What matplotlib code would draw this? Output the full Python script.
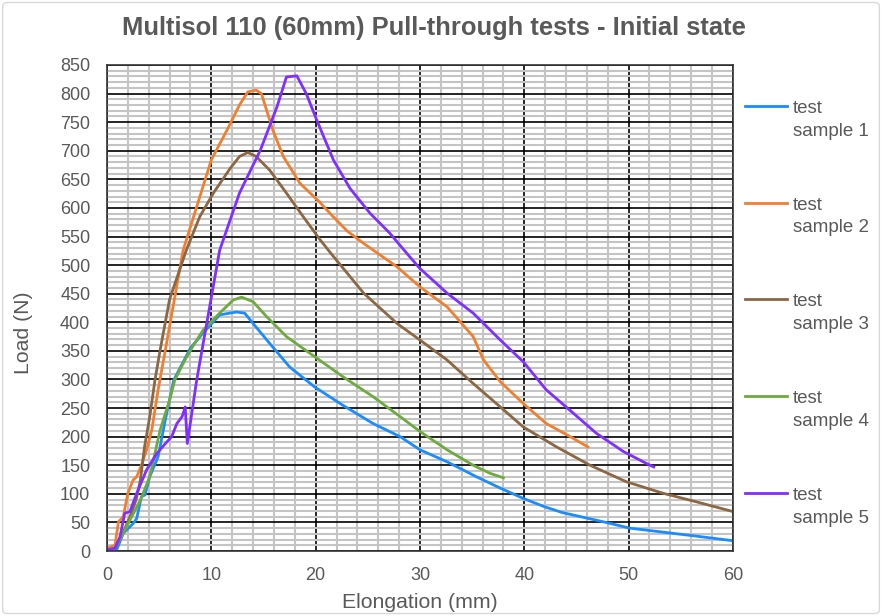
import matplotlib
matplotlib.use("Agg")
import matplotlib.pyplot as plt
import numpy as np
from matplotlib.ticker import MultipleLocator
from matplotlib.patches import FancyBboxPatch
from matplotlib.lines import Line2D
from matplotlib.legend_handler import HandlerLine2D

plt.rcParams['font.family'] = ['Liberation Sans', 'DejaVu Sans']

# Data (Elongation mm, Load N)
s1_x = [0, 0.5, 0.93, 1.56, 2.5, 2.85, 3.3, 3.64, 4.1, 4.9, 5.6, 6.4, 8.0, 9.2, 10.8, 12.4,
        13.2, 14.0, 15.6, 17.5, 19.9, 22.6, 25.5, 28.1, 30.0, 32.6, 35.4, 37.7, 39.9, 42.0,
        43.7, 47.6, 50.1, 53.3, 56.5, 60.0]
s1_y = [0, 0, 2, 31, 48, 57, 95, 98, 130, 165, 230, 299, 355, 381, 413, 418,
        416, 398, 363, 322, 287, 255, 223, 200, 177, 156, 130, 110, 92, 77,
        67, 51, 40, 33, 26, 18]

s2_x = [0, 0.77, 1.1, 1.56, 2.0, 2.5, 2.85, 3.3, 3.8, 4.3, 4.6, 4.9, 5.6, 7.3, 8.6, 10.0,
        11.5, 12.7, 13.5, 14.3, 14.8, 15.3, 15.9, 16.9, 18.5, 20.4, 21.4, 23.0, 24.6, 27.8,
        30.0, 32.6, 35.1, 36.1, 37.7, 39.9, 42.1, 44.4, 46.1]
s2_y = [5, 10, 51, 60, 101, 124, 130, 150, 177, 212, 247, 282, 352, 526, 602, 684,
        736, 780, 803, 806, 800, 771, 736, 690, 643, 610, 590, 560, 538, 497,
        462, 427, 375, 334, 296, 258, 223, 200, 182]

s3_x = [0, 0.8, 1.5, 2.2, 2.8, 3.2, 3.6, 4.1, 4.6, 5.1, 6.0, 7.6, 8.9, 10.2, 11.8, 12.7,
        13.5, 14.3, 15.6, 17.2, 18.8, 20.4, 21.4, 24.6, 27.8, 30.0, 32.6, 35.1, 37.7, 39.9,
        43.1, 46.3, 49.8, 53.3, 56.5, 60.0]
s3_y = [0, 5, 30, 60, 90, 124, 182, 235, 299, 352, 440, 526, 585, 626, 669, 690,
        697, 690, 666, 626, 585, 545, 522, 451, 398, 369, 334, 293, 252, 217,
        182, 150, 121, 101, 86, 69]

s4_x = [0, 0.6, 1.4, 2.2, 3.2, 4.1, 5.1, 6.0, 6.5, 7.5, 8.3, 9.2, 10.8, 12.1, 12.9, 14.0,
        15.3, 17.2, 19.9, 22.6, 25.5, 28.1, 30.0, 32.6, 35.1, 36.7, 38.0]
s4_y = [0, 0, 25, 54, 89, 130, 212, 264, 299, 335, 360, 386, 416, 439, 444, 436,
        410, 375, 340, 305, 270, 235, 209, 177, 150, 136, 128]

s5_x = [0, 0.77, 1.25, 1.7, 2.2, 2.85, 3.8, 4.8, 5.6, 6.2, 6.7, 7.2, 7.5, 7.7, 8.6, 10.8,
        12.7, 14.7, 16.3, 17.2, 18.2, 19.1, 20.1, 21.7, 23.3, 25.2, 27.1, 29.0, 30.0, 32.6,
        35.1, 37.7, 39.9, 42.1, 44.7, 46.9, 49.5, 51.4, 52.4]
s5_y = [2, 5, 25, 66, 69, 101, 142, 171, 188, 200, 223, 235, 252, 188, 299, 526,
        626, 701, 777, 829, 831, 800, 754, 684, 634, 591, 556, 515, 494, 451,
        416, 369, 331, 282, 241, 206, 174, 156, 147]

series = [
    ("test\nsample 1", s1_x, s1_y, "#1A8CFF"),
    ("test\nsample 2", s2_x, s2_y, "#F07F30"),
    ("test\nsample 3", s3_x, s3_y, "#8B6744"),
    ("test\nsample 4", s4_x, s4_y, "#6EAA3E"),
    ("test\nsample 5", s5_x, s5_y, "#7F2FFF"),
]

text_col = "#595959"


# legend line drawn level with the first text line, like the spreadsheet does
class TopLine(HandlerLine2D):
    def __init__(self, dy, **kw):
        super().__init__(**kw)
        self.dy = dy

    def create_artists(self, legend, orig_handle, xdescent, ydescent, width, height, fontsize, trans):
        arts = super().create_artists(legend, orig_handle, xdescent, ydescent, width, height, fontsize, trans)
        for a in arts:
            a.set_ydata(np.asarray(a.get_ydata()) + self.dy)
        return arts


fig = plt.figure(figsize=(8.82, 6.16), dpi=100)
ax = fig.add_axes([0.1213, 0.1055, 0.7097, 0.789])

# outer border of the chart area
fig.patches.append(FancyBboxPatch((0.003, 0.004), 0.994, 0.992, boxstyle="round,pad=0,rounding_size=0.006",
                                  transform=fig.transFigure, facecolor="none",
                                  edgecolor="#D9D9D9", linewidth=1.0))

for label, x, y, c in series:
    ax.plot(x, y, color=c, linewidth=2.0, label=label, solid_joinstyle="round")

ax.set_xlim(0, 60)
ax.set_ylim(0, 850)
ax.xaxis.set_major_locator(MultipleLocator(10))
ax.xaxis.set_minor_locator(MultipleLocator(2))
ax.yaxis.set_major_locator(MultipleLocator(50))
ax.yaxis.set_minor_locator(MultipleLocator(10))

ax.grid(True, which="minor", color="#C4C4C4", linewidth=1.5)
ax.grid(True, which="major", color="black", linewidth=1.2)
ax.set_axisbelow(True)
for sp in ax.spines.values():
    sp.set_color("#333333")
    sp.set_linewidth(1.2)

ax.tick_params(which="both", length=0, labelsize=13, labelcolor=text_col)
ax.tick_params(axis="x", pad=11.5)
ax.tick_params(axis="y", pad=12)

ax.set_xlabel("Elongation (mm)", fontsize=15.3, color=text_col, va="center")
ax.xaxis.set_label_coords(0.5, -0.105)
ax.set_ylabel("Load (N)", fontsize=15.3, color=text_col, va="center")
ax.yaxis.set_label_coords(-0.133, 0.45)
fig.text(0.4915, 0.9545, "Multisol 110 (60mm) Pull-through tests - Initial state",
         ha="center", va="center", fontsize=18.4, fontweight="bold", color=text_col)

leg = ax.legend(loc="upper left", bbox_to_anchor=(1.007, 0.944), frameon=False,
                fontsize=13.5, labelspacing=3.04, handlelength=2.25, handletextpad=0.3,
                borderaxespad=0, handler_map={Line2D: TopLine(10)})
for t in leg.get_texts():
    t.set_color(text_col)
    t.set_linespacing(1.45)

fig.savefig("out.png", dpi=100)
